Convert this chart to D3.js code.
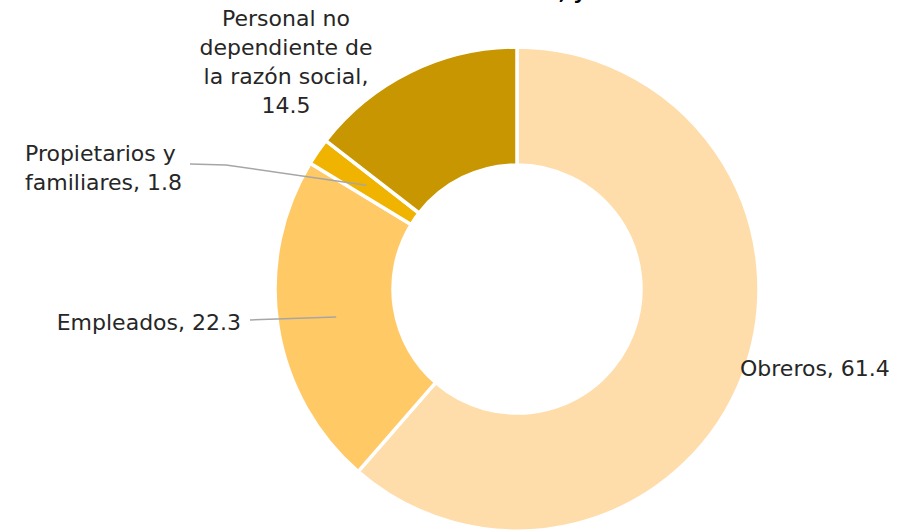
<!DOCTYPE html>
<html>
<head>
<meta charset="utf-8">
<script src="https://cdn.jsdelivr.net/npm/d3@7"></script>
<style>
  body { margin: 0; background: #fff; }
  svg { display: block; }
</style>
</head>
<body>
<div id="chart"></div>
<script>
var w = 904;
var h = 531;

// data
var categories = ["Obreros", "Empleados", "Propietarios y familiares", "Personal no dependiente de la razón social"];
var values = [61.4, 22.3, 1.8, 14.5];
var colors = ["#FEDDAB", "#FFC966", "#F0B300", "#C89600"];

// label text lines and where they sit
var labelLines = [
  ["Obreros, 61.4"],
  ["Empleados, 22.3"],
  ["Propietarios y", "familiares, 1.8"],
  ["Personal no", "dependiente de", "la razón social,", "14.5"]
];
var labelPos = [
  { x: 740, y: 376, anchor: "start" },
  { x: 241, y: 330, anchor: "end" },
  { x: 25, y: 161, anchor: "start" },
  { x: 286, y: 26, anchor: "middle" }
];
var leaders = [null, [[250, 320]], [[190, 164], [226, 165]], null];

var cx = 517, cy = 289;
var outerR = 242, innerR = 124;
var lineH = 29;
var font = "'DejaVu Sans', sans-serif";

var svg = d3.select("#chart")
  .append("svg")
  .attr("width", w)
  .attr("height", h);

// title, mostly cut off above the frame
svg.append("text")
  .attr("x", 586)
  .attr("y", -1)
  .attr("text-anchor", "end")
  .attr("font-family", font)
  .attr("font-weight", "bold")
  .attr("font-size", "20px")
  .attr("fill", "#000")
  .text("Personal total, y");

var pie = d3.pie().sort(null).value(function(d) { return d; });
var arc = d3.arc().innerRadius(innerR).outerRadius(outerR);
var midArc = d3.arc().innerRadius((innerR + outerR) / 2).outerRadius((innerR + outerR) / 2);

var arcs = pie(values);

var g = svg.append("g").attr("transform", "translate(" + cx + "," + cy + ")");

g.selectAll("path")
  .data(arcs)
  .enter()
  .append("path")
  .attr("d", arc)
  .attr("fill", function(d, i) { return colors[i]; })
  .attr("stroke", "#fff")
  .attr("stroke-width", 3.5)
  .attr("stroke-linejoin", "round");

// leader lines
arcs.forEach(function(d, i) {
  if (!leaders[i]) return;
  var c = midArc.centroid(d);
  var pts = leaders[i].concat([[cx + c[0], cy + c[1]]]);
  svg.append("path")
    .attr("d", d3.line()(pts))
    .attr("fill", "none")
    .attr("stroke", "#A6A6A6")
    .attr("stroke-width", 1.5);
});

// labels
labelLines.forEach(function(lines, i) {
  var t = svg.append("text")
    .attr("font-family", font)
    .attr("font-size", "22px")
    .attr("fill", "#262626")
    .attr("text-anchor", labelPos[i].anchor);
  lines.forEach(function(s, j) {
    t.append("tspan")
      .attr("x", labelPos[i].x)
      .attr("y", labelPos[i].y + j * lineH)
      .text(s);
  });
});
</script>
</body>
</html>
